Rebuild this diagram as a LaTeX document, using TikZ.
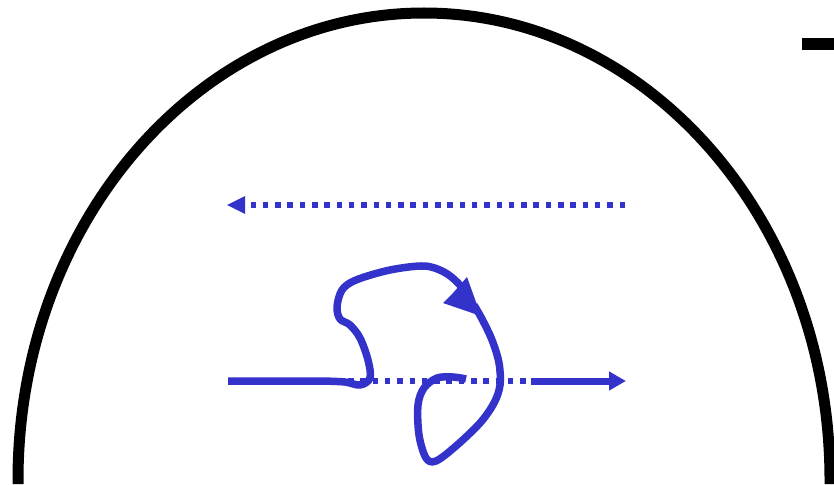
\documentclass[tikz,border=0pt]{standalone}
\usetikzlibrary{arrows.meta}
\definecolor{dblue}{RGB}{51,51,204}
\begin{document}
\begin{tikzpicture}[x=1pt,y=-1pt,
  bl/.style={draw=dblue,line width=7.5pt},
  dots/.style={draw=dblue,line width=6pt,dash pattern=on 5.5pt off 6.8pt},
  tip/.style={-{Triangle[length=17pt,width=18pt]}}]
\useasboundingbox (0,0) rectangle (834,484);
% big arc
\draw[line width=11pt] (18,484) -- (18,480) arc[start angle=180,end angle=360,x radius=406,y radius=467] -- (830,484);
\draw[line width=12pt] (802,44) -- (834,44);
% top dotted arrow
\draw[dots] (625,205) -- (246,205);
\fill[dblue] (227,205) -- (245,196) -- (245,214) -- cycle;
% lower dotted segment
\draw[dots,dash phase=0pt] (348,381) -- (526,381);
% lower right solid arrow
\draw[bl,line width=7pt,tip] (531,381) -- (626,381);
% lower left solid + loop
\draw[bl,line join=round,line cap=butt] (228,381) -- (322,381)
  plot[smooth,tension=0.55] coordinates {(322,381) (345,382) (360,385) (370,378) (368,360) (360,338) (350,325) (340,319) (337,307) (342,290) (356,280) (390,270) (424,266) (444,272) (458,283) (468,296)};
\fill[dblue] (481,316) -- (443,303) -- (453,293) -- (467,277) -- cycle;
\draw[bl,line join=round] plot[smooth,tension=0.55] coordinates {(474,305) (482,319) (492,340) (499,363) (500,385) (494,403) (480,423) (456,446) (436,461) (426,458) (419,435) (418,405) (424,388) (437,378) (453,377) (466,379)};
\end{tikzpicture}
\end{document}
